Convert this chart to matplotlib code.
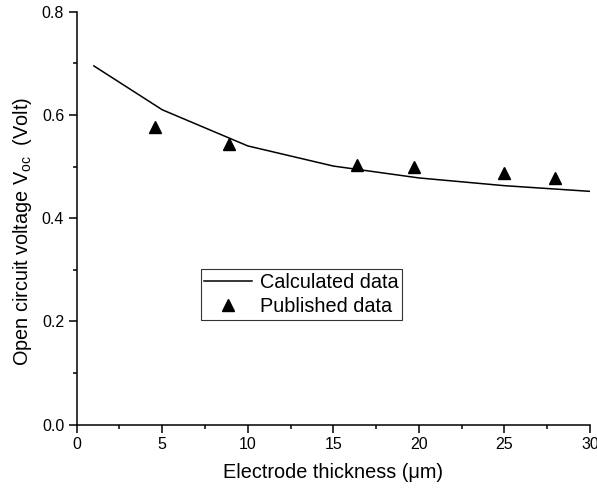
import numpy as np
import matplotlib.pyplot as plt
from matplotlib.ticker import MultipleLocator

# calculated curve
calc_x = [1, 5, 10, 15, 20, 25, 30]
calc_y = [0.695, 0.610, 0.540, 0.501, 0.478, 0.463, 0.452]

# published points
pub_x = [4.6, 8.9, 16.4, 19.7, 24.95, 27.95]
pub_y = [0.576, 0.544, 0.503, 0.499, 0.488, 0.477]

plt.rcParams['font.family'] = ['Liberation Sans', 'DejaVu Sans']

fig = plt.figure(figsize=(5.97, 4.91), dpi=100)
ax = fig.add_axes([0.1285, 0.135, 0.8597, 0.8412])

ax.plot(calc_x, calc_y, color='black', lw=1.1, label='Calculated data')
ax.plot(pub_x, pub_y, linestyle='none', marker='^', color='black', ms=8,
        label='Published data')

ax.set_xlim(0, 30)
ax.set_ylim(0, 0.8)
ax.xaxis.set_major_locator(MultipleLocator(5))
ax.xaxis.set_minor_locator(MultipleLocator(2.5))
ax.yaxis.set_major_locator(MultipleLocator(0.2))
ax.yaxis.set_minor_locator(MultipleLocator(0.1))
ax.yaxis.set_major_formatter(plt.FormatStrFormatter('%.1f'))

for s in ['top', 'right']:
    ax.spines[s].set_visible(False)
for s in ['left', 'bottom']:
    ax.spines[s].set_linewidth(1.1)
ax.tick_params(which='major', direction='out', length=5.5, width=1.1, labelsize=11.5)
ax.tick_params(which='minor', direction='out', length=3, width=1.1)

ax.set_xlabel('Electrode thickness (\u03bcm)', fontsize=14.3, labelpad=8)
ax.set_ylabel('Open circuit voltage V$_{\\mathregular{oc}}$  (Volt)', fontsize=14.3, labelpad=6)
ax.yaxis.label.set_y(0.469)

leg = ax.legend(loc='upper left', bbox_to_anchor=(0.336, 0.4515),
                bbox_transform=fig.transFigure, fontsize=14.3, frameon=True,
                fancybox=False, edgecolor='black', borderpad=0.18,
                borderaxespad=0, labelspacing=0.28, handlelength=2.4,
                handletextpad=0.42)
leg.get_frame().set_linewidth(0.8)

fig.savefig('out.png', dpi=100)
